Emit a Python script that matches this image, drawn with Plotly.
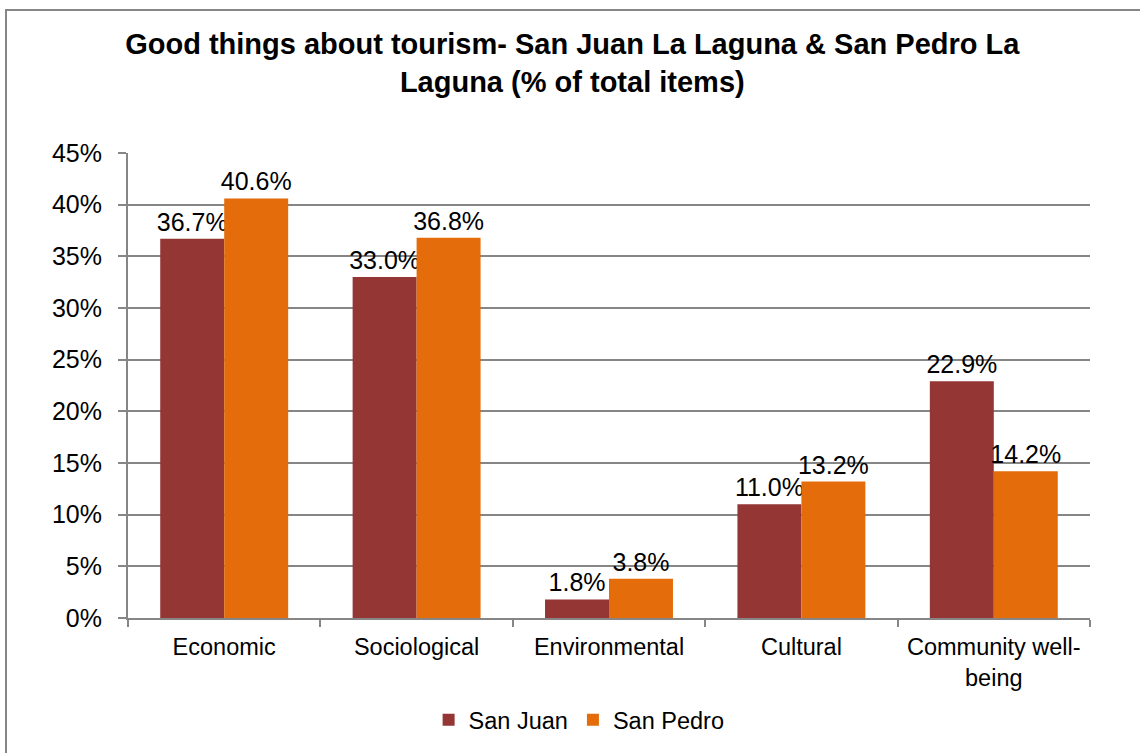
import plotly.graph_objects as go

categories = ["Economic", "Sociological", "Environmental", "Cultural", "Community well-<br>being"]
san_juan = [36.7, 33.0, 1.8, 11.0, 22.9]
san_pedro = [40.6, 36.8, 3.8, 13.2, 14.2]
y_ticks = [0, 5, 10, 15, 20, 25, 30, 35, 40, 45]
y_tick_labels = [f"{v}%" for v in y_ticks]

font_family = "Liberation Sans, Arial, sans-serif"

fig = go.Figure()
for name, vals, color in [("San Juan", san_juan, "#943634"), ("San Pedro", san_pedro, "#E46C0A")]:
    fig.add_trace(go.Bar(
        name=name, x=categories, y=vals,
        marker=dict(color=color, line=dict(width=0)),
        text=[f"{v:.1f}%" for v in vals],
        textposition="outside",
        textfont=dict(size=25, color="#000000", family=font_family),
        constraintext="none",
        cliponaxis=False,
    ))

fig.update_layout(
    width=1140, height=753,
    margin=dict(l=128, r=50, t=153, b=135, autoexpand=False),
    paper_bgcolor="white", plot_bgcolor="white",
    barmode="group", bargap=0.335, bargroupgap=0,
    font=dict(family=font_family, color="#000000"),
    title=dict(
        text="<b>Good things about tourism- San Juan La Laguna & San Pedro La<br>Laguna (% of total items)</b>",
        x=0.502, xanchor="center", y=1 - 54 / 753, yanchor="top",
        font=dict(size=29, family=font_family, color="#000000"),
    ),
    showlegend=True,
    legend=dict(
        orientation="h", xref="container", x=0.508, xanchor="center", y=-0.172, yanchor="top",
        font=dict(size=23.5, family=font_family), itemwidth=30,
        traceorder="normal",
    ),
    xaxis=dict(
        showline=True, linecolor="#868686", linewidth=2,
        ticks="outside", tickson="boundaries", ticklen=7, tickcolor="#868686", tickwidth=2,
        tickfont=dict(size=23.5, family=font_family),
        ticklabelstandoff=7,
        showgrid=False,
    ),
    yaxis=dict(
        range=[0, 45], tickvals=y_ticks, ticktext=y_tick_labels,
        showline=True, linecolor="#868686", linewidth=2,
        ticks="outside", ticklen=8, tickcolor="#868686", tickwidth=2,
        showgrid=True, gridcolor="#868686", gridwidth=2,
        tickfont=dict(size=25, family=font_family),
        ticklabelstandoff=11,
        zeroline=False,
    ),
    shapes=[dict(
        type="rect", xref="paper", yref="paper",
        x0=-122 / 962, x1=1.1, y0=-0.4, y1=(753 - 10 - 135) / 465,
        line=dict(color="#868686", width=2), fillcolor="rgba(0,0,0,0)", layer="below",
    )],
)

fig.write_html("out.html")
